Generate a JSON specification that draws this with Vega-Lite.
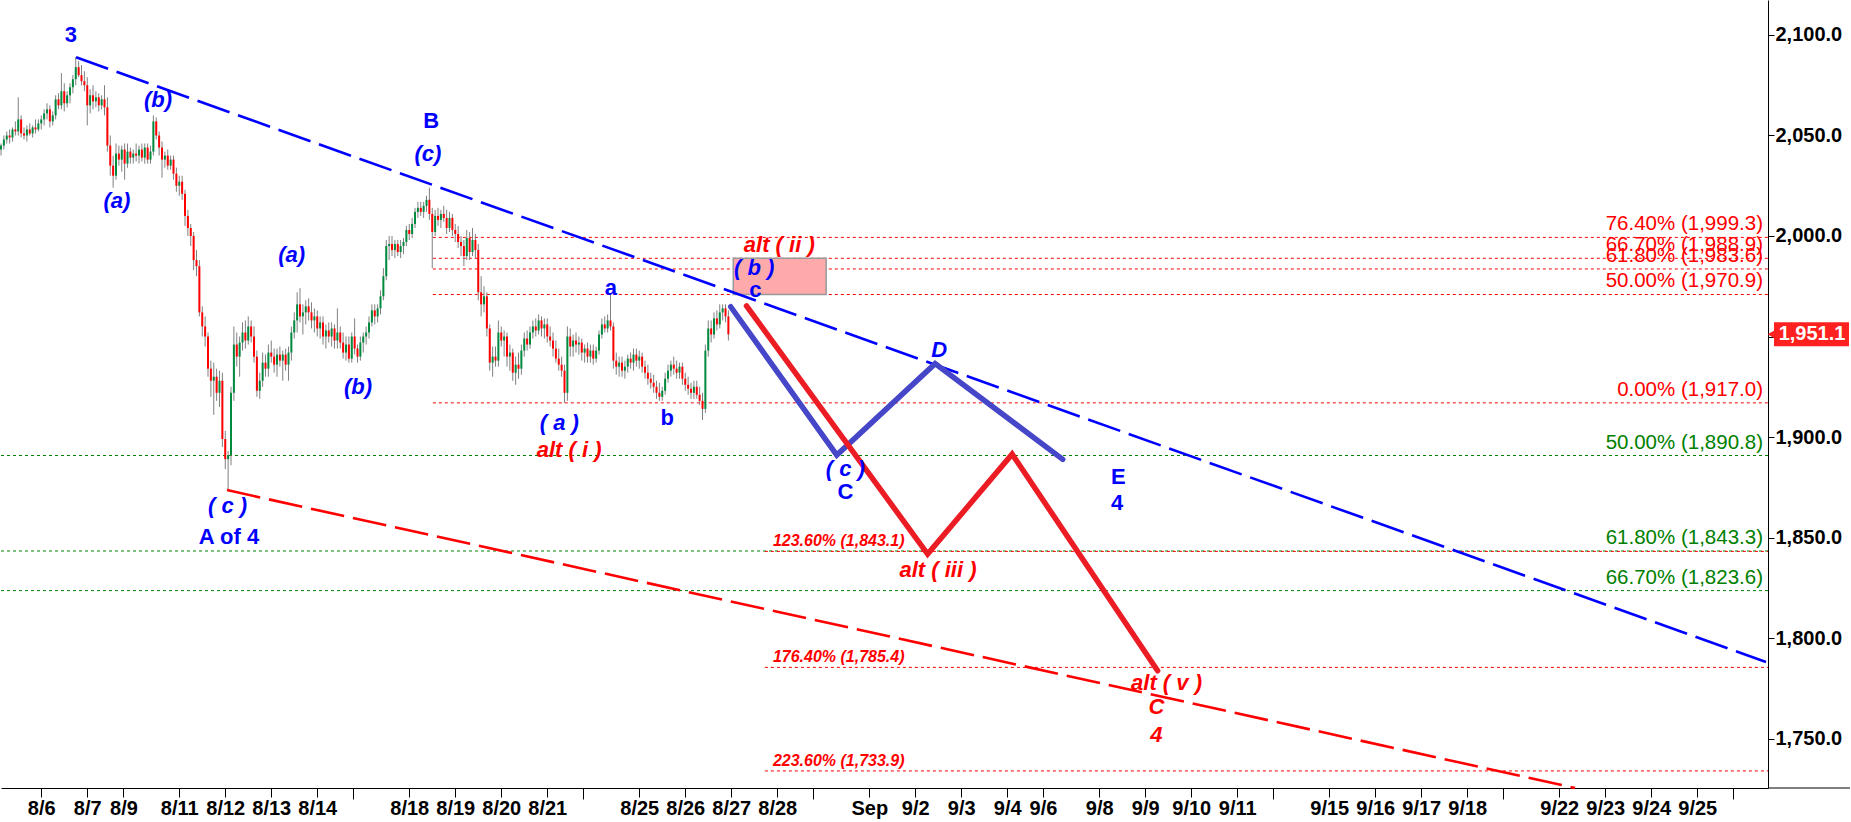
{
"$schema": "https://vega.github.io/schema/vega-lite/v6.json",
"width": 1767, "height": 788, "padding": 0, "autosize": {"type": "pad"},
"background": "white",
"config": {"view": {"stroke": null}, "font": "Liberation Sans"},
"datasets": {
"fib": [
{"g":"A","x0":150.2,"x1":614.6,"v":1999.3,"label":"76.40% (1,999.3)"},
{"g":"A","x0":150.2,"x1":614.6,"v":1988.9,"label":"66.70% (1,988.9)"},
{"g":"A","x0":150.2,"x1":614.6,"v":1983.6,"label":"61.80% (1,983.6)"},
{"g":"A","x0":150.2,"x1":614.6,"v":1970.9,"label":"50.00% (1,970.9)"},
{"g":"A","x0":150.2,"x1":614.6,"v":1917.0,"label":"0.00% (1,917.0)"},
{"g":"G","x0":0,"x1":614.6,"v":1890.8,"label":"50.00% (1,890.8)"},
{"g":"G","x0":0,"x1":614.6,"v":1843.3,"label":"61.80% (1,843.3)"},
{"g":"G","x0":0,"x1":614.6,"v":1823.6,"label":"66.70% (1,823.6)"},
{"g":"B","x0":265.7,"x1":614.6,"v":1843.1,"label":"123.60% (1,843.1)"},
{"g":"B","x0":265.7,"x1":614.6,"v":1785.4,"label":"176.40% (1,785.4)"},
{"g":"B","x0":265.7,"x1":614.6,"v":1733.9,"label":"223.60% (1,733.9)"}
],
"box": [{"x0":254.7,"x1":287.0,"v0":1988.9,"v1":1970.9}],
"tb": [{"i":26.1,"v":2088.9},{"i":613.9,"v":1788.1}],
"tr": [{"i":78.6,"v":1873.6},{"i":547.5,"v":1725.4}],
"wb": [{"i":253.8,"v":1964.8},{"i":290.7,"v":1891.0},{"i":324.9,"v":1936.5},{"i":369.3,"v":1888.9}],
"wr": [{"i":259.3,"v":1965.2},{"i":322.3,"v":1841.8},{"i":351.7,"v":1891.5},{"i":402.3,"v":1783.7}],
"labels": [
{"g":"bu","t":"3","i":24.3,"v":2100.0},
{"g":"bu","t":"B","i":149.6,"v":2057.4},
{"g":"bu","t":"a","i":212.1,"v":1974.0},
{"g":"bu","t":"b","i":231.7,"v":1909.3},
{"g":"bu","t":"A of 4","i":79.3,"v":1850.4},
{"g":"bu","t":"c","i":262.4,"v":1973.2},
{"g":"bu","t":"C","i":293.7,"v":1872.8},
{"g":"bu","t":"E","i":388.6,"v":1880.0},
{"g":"bu","t":"4","i":388.2,"v":1867.0},
{"g":"bi","t":"(b)","i":54.6,"v":2067.7},
{"g":"bi","t":"(a)","i":40.3,"v":2017.4},
{"g":"bi","t":"(c)","i":148.5,"v":2040.8},
{"g":"bi","t":"(a)","i":101.1,"v":1990.5},
{"g":"bi","t":"(b)","i":124.2,"v":1924.7},
{"g":"bi","t":"( a )","i":194.2,"v":1907.1},
{"g":"bi","t":"( c )","i":78.8,"v":1865.7},
{"g":"bi","t":"( b )","i":262.0,"v":1984.0},
{"g":"bi","t":"D","i":326.3,"v":1943.3},
{"g":"bi","t":"( c )","i":293.7,"v":1883.9},
{"g":"ri","t":"alt ( i )","i":197.6,"v":1893.5},
{"g":"ri","t":"alt ( ii )","i":270.7,"v":1995.6},
{"g":"ri","t":"alt ( iii )","i":325.9,"v":1833.8},
{"g":"ri","t":"alt ( v )","i":405.4,"v":1777.8},
{"g":"ri","t":"C","i":401.9,"v":1765.6},
{"g":"ri","t":"4","i":401.9,"v":1751.8}
],
"tag": [{"price":1951.1,"t":"1,951.1"}],
"ohlc": [
{"i":0,"o":2043,"h":2046,"l":2040,"c":2045},
{"i":1,"o":2045,"h":2050,"l":2043,"c":2048},
{"i":2,"o":2048,"h":2052,"l":2046,"c":2050},
{"i":3,"o":2050,"h":2053,"l":2046,"c":2049},
{"i":4,"o":2049,"h":2054,"l":2047,"c":2053},
{"i":5,"o":2053,"h":2057,"l":2050,"c":2052},
{"i":6,"o":2052,"h":2069,"l":2050,"c":2058},
{"i":7,"o":2058,"h":2060,"l":2049,"c":2051},
{"i":8,"o":2051,"h":2054,"l":2048,"c":2050},
{"i":9,"o":2050,"h":2055,"l":2047,"c":2053},
{"i":10,"o":2053,"h":2056,"l":2050,"c":2051},
{"i":11,"o":2051,"h":2055,"l":2049,"c":2054},
{"i":12,"o":2054,"h":2058,"l":2051,"c":2053},
{"i":13,"o":2053,"h":2058,"l":2052,"c":2056},
{"i":14,"o":2056,"h":2060,"l":2053,"c":2058},
{"i":15,"o":2058,"h":2063,"l":2055,"c":2061},
{"i":16,"o":2061,"h":2066,"l":2058,"c":2063},
{"i":17,"o":2063,"h":2065,"l":2054,"c":2057},
{"i":18,"o":2057,"h":2062,"l":2055,"c":2060},
{"i":19,"o":2060,"h":2070,"l":2058,"c":2068},
{"i":20,"o":2068,"h":2071,"l":2063,"c":2065},
{"i":21,"o":2065,"h":2081,"l":2063,"c":2072},
{"i":22,"o":2072,"h":2076,"l":2062,"c":2066},
{"i":23,"o":2066,"h":2072,"l":2064,"c":2070},
{"i":24,"o":2070,"h":2076,"l":2066,"c":2074},
{"i":25,"o":2074,"h":2080,"l":2071,"c":2078},
{"i":26,"o":2078,"h":2089,"l":2075,"c":2084},
{"i":27,"o":2084,"h":2087,"l":2079,"c":2080},
{"i":28,"o":2080,"h":2085,"l":2075,"c":2077},
{"i":29,"o":2077,"h":2082,"l":2072,"c":2075},
{"i":30,"o":2075,"h":2079,"l":2055,"c":2065},
{"i":31,"o":2065,"h":2073,"l":2061,"c":2070},
{"i":32,"o":2070,"h":2075,"l":2063,"c":2067},
{"i":33,"o":2067,"h":2072,"l":2064,"c":2069},
{"i":34,"o":2069,"h":2071,"l":2062,"c":2065},
{"i":35,"o":2065,"h":2070,"l":2063,"c":2068},
{"i":36,"o":2068,"h":2075,"l":2060,"c":2064},
{"i":37,"o":2064,"h":2069,"l":2042,"c":2045},
{"i":38,"o":2045,"h":2050,"l":2030,"c":2035},
{"i":39,"o":2035,"h":2040,"l":2024,"c":2030},
{"i":40,"o":2030,"h":2046,"l":2028,"c":2041},
{"i":41,"o":2041,"h":2045,"l":2035,"c":2038},
{"i":42,"o":2038,"h":2045,"l":2032,"c":2043},
{"i":43,"o":2043,"h":2046,"l":2028,"c":2036},
{"i":44,"o":2036,"h":2046,"l":2034,"c":2042},
{"i":45,"o":2042,"h":2044,"l":2036,"c":2039},
{"i":46,"o":2039,"h":2043,"l":2036,"c":2041},
{"i":47,"o":2041,"h":2046,"l":2037,"c":2040},
{"i":48,"o":2040,"h":2045,"l":2036,"c":2043},
{"i":49,"o":2043,"h":2046,"l":2037,"c":2039},
{"i":50,"o":2039,"h":2046,"l":2036,"c":2044},
{"i":51,"o":2044,"h":2046,"l":2036,"c":2038},
{"i":52,"o":2038,"h":2045,"l":2036,"c":2042},
{"i":53,"o":2042,"h":2060,"l":2040,"c":2057},
{"i":54,"o":2057,"h":2059,"l":2048,"c":2050},
{"i":55,"o":2050,"h":2052,"l":2040,"c":2044},
{"i":56,"o":2044,"h":2047,"l":2029,"c":2038},
{"i":57,"o":2038,"h":2042,"l":2034,"c":2040},
{"i":58,"o":2040,"h":2043,"l":2033,"c":2035},
{"i":59,"o":2035,"h":2040,"l":2033,"c":2038},
{"i":60,"o":2038,"h":2040,"l":2028,"c":2031},
{"i":61,"o":2031,"h":2034,"l":2022,"c":2025},
{"i":62,"o":2025,"h":2030,"l":2020,"c":2027},
{"i":63,"o":2027,"h":2030,"l":2018,"c":2021},
{"i":64,"o":2021,"h":2023,"l":2005,"c":2010},
{"i":65,"o":2010,"h":2013,"l":2000,"c":2004},
{"i":66,"o":2004,"h":2006,"l":1995,"c":2000},
{"i":67,"o":2000,"h":2002,"l":1983,"c":1988},
{"i":68,"o":1988,"h":1993,"l":1980,"c":1985},
{"i":69,"o":1985,"h":1988,"l":1960,"c":1962},
{"i":70,"o":1962,"h":1965,"l":1950,"c":1955},
{"i":71,"o":1955,"h":1960,"l":1945,"c":1950},
{"i":72,"o":1950,"h":1952,"l":1930,"c":1934},
{"i":73,"o":1934,"h":1938,"l":1920,"c":1928},
{"i":74,"o":1928,"h":1937,"l":1911,"c":1930},
{"i":75,"o":1930,"h":1934,"l":1918,"c":1922},
{"i":76,"o":1922,"h":1933,"l":1915,"c":1928},
{"i":77,"o":1928,"h":1932,"l":1895,"c":1899},
{"i":78,"o":1899,"h":1903,"l":1884,"c":1889},
{"i":79,"o":1889,"h":1893,"l":1873.6,"c":1891},
{"i":80,"o":1891,"h":1925,"l":1886,"c":1922},
{"i":81,"o":1922,"h":1955,"l":1918,"c":1946},
{"i":82,"o":1946,"h":1952,"l":1935,"c":1940},
{"i":83,"o":1940,"h":1950,"l":1930,"c":1947},
{"i":84,"o":1947,"h":1957,"l":1943,"c":1952},
{"i":85,"o":1952,"h":1958,"l":1944,"c":1948},
{"i":86,"o":1948,"h":1960,"l":1946,"c":1955},
{"i":87,"o":1955,"h":1958,"l":1947,"c":1950},
{"i":88,"o":1950,"h":1955,"l":1937,"c":1940},
{"i":89,"o":1940,"h":1943,"l":1920,"c":1923},
{"i":90,"o":1923,"h":1932,"l":1919,"c":1928},
{"i":91,"o":1928,"h":1942,"l":1925,"c":1937},
{"i":92,"o":1937,"h":1941,"l":1930,"c":1934},
{"i":93,"o":1934,"h":1946,"l":1930,"c":1942},
{"i":94,"o":1942,"h":1948,"l":1937,"c":1940},
{"i":95,"o":1940,"h":1944,"l":1932,"c":1936},
{"i":96,"o":1936,"h":1944,"l":1930,"c":1941},
{"i":97,"o":1941,"h":1945,"l":1935,"c":1938},
{"i":98,"o":1938,"h":1943,"l":1928,"c":1941},
{"i":99,"o":1941,"h":1944,"l":1933,"c":1936},
{"i":100,"o":1936,"h":1945,"l":1928,"c":1942},
{"i":101,"o":1942,"h":1955,"l":1938,"c":1952},
{"i":102,"o":1952,"h":1962,"l":1949,"c":1958},
{"i":103,"o":1958,"h":1972,"l":1952,"c":1966},
{"i":104,"o":1966,"h":1974,"l":1957,"c":1960},
{"i":105,"o":1960,"h":1966,"l":1951,"c":1962},
{"i":106,"o":1962,"h":1968,"l":1956,"c":1965},
{"i":107,"o":1965,"h":1969,"l":1958,"c":1962},
{"i":108,"o":1962,"h":1967,"l":1954,"c":1958},
{"i":109,"o":1958,"h":1964,"l":1952,"c":1960},
{"i":110,"o":1960,"h":1963,"l":1950,"c":1954},
{"i":111,"o":1954,"h":1960,"l":1949,"c":1957},
{"i":112,"o":1957,"h":1960,"l":1946,"c":1950},
{"i":113,"o":1950,"h":1956,"l":1944,"c":1953},
{"i":114,"o":1953,"h":1957,"l":1947,"c":1950},
{"i":115,"o":1950,"h":1957,"l":1945,"c":1954},
{"i":116,"o":1954,"h":1956,"l":1944,"c":1948},
{"i":117,"o":1948,"h":1964,"l":1944,"c":1952},
{"i":118,"o":1952,"h":1955,"l":1944,"c":1947},
{"i":119,"o":1947,"h":1952,"l":1939,"c":1942},
{"i":120,"o":1942,"h":1950,"l":1938,"c":1946},
{"i":121,"o":1946,"h":1950,"l":1937,"c":1939},
{"i":122,"o":1939,"h":1952,"l":1937,"c":1950},
{"i":123,"o":1950,"h":1959,"l":1941,"c":1944},
{"i":124,"o":1944,"h":1946,"l":1937,"c":1940},
{"i":125,"o":1940,"h":1950,"l":1938,"c":1947},
{"i":126,"o":1947,"h":1952,"l":1942,"c":1950},
{"i":127,"o":1950,"h":1955,"l":1946,"c":1952},
{"i":128,"o":1952,"h":1960,"l":1949,"c":1957},
{"i":129,"o":1957,"h":1966,"l":1955,"c":1963},
{"i":130,"o":1963,"h":1966,"l":1956,"c":1960},
{"i":131,"o":1960,"h":1966,"l":1957,"c":1964},
{"i":132,"o":1964,"h":1973,"l":1961,"c":1970},
{"i":133,"o":1970,"h":1984,"l":1968,"c":1980},
{"i":134,"o":1980,"h":1998,"l":1978,"c":1995},
{"i":135,"o":1995,"h":2000,"l":1988,"c":1996},
{"i":136,"o":1996,"h":2000,"l":1990,"c":1993},
{"i":137,"o":1993,"h":1998,"l":1989,"c":1996},
{"i":138,"o":1996,"h":1998,"l":1990,"c":1992},
{"i":139,"o":1992,"h":1998,"l":1989,"c":1995},
{"i":140,"o":1995,"h":1999,"l":1991,"c":1997},
{"i":141,"o":1997,"h":2005,"l":1995,"c":2003},
{"i":142,"o":2003,"h":2006,"l":1998,"c":2001},
{"i":143,"o":2001,"h":2009,"l":1999,"c":2006},
{"i":144,"o":2006,"h":2014,"l":2004,"c":2012},
{"i":145,"o":2012,"h":2017,"l":2009,"c":2014},
{"i":146,"o":2014,"h":2017,"l":2010,"c":2012},
{"i":147,"o":2012,"h":2017,"l":2009,"c":2015},
{"i":148,"o":2015,"h":2020,"l":2012,"c":2018},
{"i":149,"o":2018,"h":2024,"l":2008,"c":2011},
{"i":150,"o":2011,"h":2014,"l":1984,"c":2002},
{"i":151,"o":2002,"h":2013,"l":2000,"c":2010},
{"i":152,"o":2010,"h":2014,"l":2005,"c":2008},
{"i":153,"o":2008,"h":2013,"l":2004,"c":2011},
{"i":154,"o":2011,"h":2015,"l":2007,"c":2009},
{"i":155,"o":2009,"h":2013,"l":2001,"c":2004},
{"i":156,"o":2004,"h":2012,"l":2002,"c":2009},
{"i":157,"o":2009,"h":2011,"l":2000,"c":2003},
{"i":158,"o":2003,"h":2006,"l":1997,"c":2001},
{"i":159,"o":2001,"h":2005,"l":1994,"c":1997},
{"i":160,"o":1997,"h":2000,"l":1990,"c":1995},
{"i":161,"o":1995,"h":1998,"l":1985,"c":1990},
{"i":162,"o":1990,"h":2003,"l":1988,"c":1999},
{"i":163,"o":1999,"h":2002,"l":1988,"c":1992},
{"i":164,"o":1992,"h":2004,"l":1990,"c":1998},
{"i":165,"o":1998,"h":2001,"l":1989,"c":1993},
{"i":166,"o":1993,"h":1996,"l":1968,"c":1972},
{"i":167,"o":1972,"h":1980,"l":1960,"c":1966},
{"i":168,"o":1966,"h":1975,"l":1962,"c":1970},
{"i":169,"o":1970,"h":1972,"l":1950,"c":1954},
{"i":170,"o":1954,"h":1956,"l":1933,"c":1937},
{"i":171,"o":1937,"h":1945,"l":1930,"c":1940},
{"i":172,"o":1940,"h":1945,"l":1935,"c":1938},
{"i":173,"o":1938,"h":1958,"l":1935,"c":1952},
{"i":174,"o":1952,"h":1955,"l":1945,"c":1948},
{"i":175,"o":1948,"h":1953,"l":1940,"c":1950},
{"i":176,"o":1950,"h":1952,"l":1935,"c":1940},
{"i":177,"o":1940,"h":1946,"l":1933,"c":1942},
{"i":178,"o":1942,"h":1944,"l":1928,"c":1932},
{"i":179,"o":1932,"h":1940,"l":1926,"c":1936},
{"i":180,"o":1936,"h":1942,"l":1929,"c":1934},
{"i":181,"o":1934,"h":1946,"l":1931,"c":1943},
{"i":182,"o":1943,"h":1952,"l":1940,"c":1949},
{"i":183,"o":1949,"h":1953,"l":1943,"c":1946},
{"i":184,"o":1946,"h":1955,"l":1944,"c":1952},
{"i":185,"o":1952,"h":1958,"l":1949,"c":1955},
{"i":186,"o":1955,"h":1959,"l":1950,"c":1953},
{"i":187,"o":1953,"h":1961,"l":1951,"c":1958},
{"i":188,"o":1958,"h":1960,"l":1950,"c":1954},
{"i":189,"o":1954,"h":1959,"l":1949,"c":1956},
{"i":190,"o":1956,"h":1959,"l":1947,"c":1950},
{"i":191,"o":1950,"h":1955,"l":1945,"c":1948},
{"i":192,"o":1948,"h":1952,"l":1940,"c":1944},
{"i":193,"o":1944,"h":1948,"l":1937,"c":1939},
{"i":194,"o":1939,"h":1944,"l":1933,"c":1936},
{"i":195,"o":1936,"h":1940,"l":1930,"c":1933},
{"i":196,"o":1933,"h":1936,"l":1917,"c":1922},
{"i":197,"o":1922,"h":1955,"l":1918,"c":1950},
{"i":198,"o":1950,"h":1954,"l":1940,"c":1945},
{"i":199,"o":1945,"h":1951,"l":1940,"c":1948},
{"i":200,"o":1948,"h":1952,"l":1942,"c":1946},
{"i":201,"o":1946,"h":1950,"l":1941,"c":1947},
{"i":202,"o":1947,"h":1949,"l":1938,"c":1942},
{"i":203,"o":1942,"h":1946,"l":1937,"c":1944},
{"i":204,"o":1944,"h":1947,"l":1937,"c":1940},
{"i":205,"o":1940,"h":1946,"l":1937,"c":1943},
{"i":206,"o":1943,"h":1946,"l":1936,"c":1939},
{"i":207,"o":1939,"h":1945,"l":1937,"c":1943},
{"i":208,"o":1943,"h":1953,"l":1941,"c":1951},
{"i":209,"o":1951,"h":1959,"l":1949,"c":1956},
{"i":210,"o":1956,"h":1960,"l":1952,"c":1954},
{"i":211,"o":1954,"h":1961,"l":1952,"c":1958},
{"i":212,"o":1958,"h":1971,"l":1953,"c":1955},
{"i":213,"o":1955,"h":1957,"l":1934,"c":1938},
{"i":214,"o":1938,"h":1942,"l":1931,"c":1935},
{"i":215,"o":1935,"h":1940,"l":1930,"c":1937},
{"i":216,"o":1937,"h":1940,"l":1930,"c":1933},
{"i":217,"o":1933,"h":1938,"l":1929,"c":1935},
{"i":218,"o":1935,"h":1941,"l":1932,"c":1939},
{"i":219,"o":1939,"h":1942,"l":1934,"c":1937},
{"i":220,"o":1937,"h":1944,"l":1933,"c":1941},
{"i":221,"o":1941,"h":1944,"l":1935,"c":1938},
{"i":222,"o":1938,"h":1943,"l":1934,"c":1940},
{"i":223,"o":1940,"h":1942,"l":1932,"c":1935},
{"i":224,"o":1935,"h":1938,"l":1929,"c":1932},
{"i":225,"o":1932,"h":1936,"l":1926,"c":1929},
{"i":226,"o":1929,"h":1932,"l":1924,"c":1927},
{"i":227,"o":1927,"h":1931,"l":1922,"c":1925},
{"i":228,"o":1925,"h":1928,"l":1919,"c":1922},
{"i":229,"o":1922,"h":1927,"l":1918,"c":1920},
{"i":230,"o":1920,"h":1925,"l":1918,"c":1923},
{"i":231,"o":1923,"h":1932,"l":1921,"c":1929},
{"i":232,"o":1929,"h":1936,"l":1927,"c":1933},
{"i":233,"o":1933,"h":1938,"l":1930,"c":1936},
{"i":234,"o":1936,"h":1940,"l":1931,"c":1934},
{"i":235,"o":1934,"h":1938,"l":1929,"c":1932},
{"i":236,"o":1932,"h":1937,"l":1929,"c":1935},
{"i":237,"o":1935,"h":1937,"l":1926,"c":1929},
{"i":238,"o":1929,"h":1932,"l":1923,"c":1926},
{"i":239,"o":1926,"h":1930,"l":1921,"c":1924},
{"i":240,"o":1924,"h":1927,"l":1919,"c":1922},
{"i":241,"o":1922,"h":1928,"l":1919,"c":1925},
{"i":242,"o":1925,"h":1928,"l":1919,"c":1921},
{"i":243,"o":1921,"h":1925,"l":1916,"c":1918},
{"i":244,"o":1918,"h":1922,"l":1908.5,"c":1914},
{"i":245,"o":1914,"h":1946,"l":1912,"c":1943},
{"i":246,"o":1943,"h":1958,"l":1940,"c":1954},
{"i":247,"o":1954,"h":1958,"l":1947,"c":1951},
{"i":248,"o":1951,"h":1962,"l":1949,"c":1959},
{"i":249,"o":1959,"h":1963,"l":1953,"c":1956},
{"i":250,"o":1956,"h":1966,"l":1954,"c":1962},
{"i":251,"o":1962,"h":1966,"l":1958,"c":1964},
{"i":252,"o":1964,"h":1966,"l":1957,"c":1960},
{"i":253,"o":1960,"h":1963,"l":1948,"c":1951.1}
]
},
"layer": [
{"data": {"name": "fib"},
 "mark": {"type": "rule", "strokeDash": [3, 3], "strokeWidth": 1},
 "encoding": {
  "x": {"field": "x0", "type": "quantitative", "scale": {"domain": [0, 614.6], "nice": false, "zero": false},
   "axis": {"title": null, "orient": "bottom",
    "values": [14,30,42.6,62,78,94,110,122.5,142,158,174,190,202.5,222,238,254,270,282.6,302,318,334,350,362.4,382,398,414,430,442.6,462,478,494,510,522.5,542,558,574,590,602.6],
    "labelExpr": "['8/6','8/7','8/9','8/11','8/12','8/13','8/14','','8/18','8/19','8/20','8/21','','8/25','8/26','8/27','8/28','','Sep','9/2','9/3','9/4','9/6','9/8','9/9','9/10','9/11','','9/15','9/16','9/17','9/18','','9/22','9/23','9/24','9/25',''][indexof([14,30,42.6,62,78,94,110,122.5,142,158,174,190,202.5,222,238,254,270,282.6,302,318,334,350,362.4,382,398,414,430,442.6,462,478,494,510,522.5,542,558,574,590,602.6], datum.value)]",
    "labelFont": "Liberation Sans", "labelFontSize": 20, "labelFontWeight": "bold", "labelColor": "#000000",
    "labelPadding": 1, "labelOverlap": false, "labelFlush": false, "labelBound": false,
    "tickColor": "#000000", "tickWidth": 1,
    "tickSize": {"condition": {"test": "indexof([122.5,202.5,282.6,442.6,522.5,602.6], datum.value) >= 0", "value": 11}, "value": 9},
    "domainColor": "#000000", "domainWidth": 1, "grid": false}},
  "x2": {"field": "x1"},
  "y": {"field": "v", "type": "quantitative", "scale": {"domain": [1725.4, 2117.4], "nice": false, "zero": false},
   "axis": {"title": null, "orient": "right", "values": [1750,1800,1850,1900,1950,2000,2050,2100], "format": ",.1f",
    "labelFont": "Liberation Sans", "labelFontSize": 20, "labelFontWeight": "bold", "labelColor": "#000000",
    "labelPadding": 1, "labelOverlap": false, "labelBound": false,
    "tickColor": "#000000", "tickSize": 6, "domainColor": "#000000", "domainWidth": 1, "grid": false}},
  "color": {"field": "g", "type": "nominal", "scale": {"domain": ["A","G","B"], "range": ["#ff0000","#008000","#ff0000"]}, "legend": null}
 }},
{"data": {"name": "box"},
 "mark": {"type": "rect", "fill": "#ffaaaa", "stroke": "#999999", "strokeWidth": 1.5},
 "encoding": {
  "x": {"field": "x0", "type": "quantitative", "scale": {"domain": [0, 614.6], "nice": false, "zero": false}, "title": null},
  "x2": {"field": "x1"},
  "y": {"field": "v0", "type": "quantitative", "scale": {"domain": [1725.4, 2117.4], "nice": false, "zero": false}, "title": null},
  "y2": {"field": "v1"}
 }},
{"data": {"name": "ohlc"},
 "mark": {"type": "rule", "color": "#808080", "strokeWidth": 1},
 "encoding": {
  "x": {"field": "i", "type": "quantitative", "scale": {"domain": [0, 614.6], "nice": false, "zero": false}, "title": null},
  "y": {"field": "l", "type": "quantitative", "scale": {"domain": [1725.4, 2117.4], "nice": false, "zero": false}, "title": null},
  "y2": {"field": "h"}
 }},
{"data": {"name": "ohlc"},
 "mark": {"type": "rule", "strokeWidth": 2},
 "encoding": {
  "x": {"field": "i", "type": "quantitative", "scale": {"domain": [0, 614.6], "nice": false, "zero": false}, "title": null},
  "y": {"field": "o", "type": "quantitative", "scale": {"domain": [1725.4, 2117.4], "nice": false, "zero": false}, "title": null},
  "y2": {"field": "c"},
  "color": {"condition": {"test": "datum.c >= datum.o", "value": "#008a3e"}, "value": "#ff0000"}
 }},
{"data": {"name": "tb"},
 "mark": {"type": "line", "color": "#0000ff", "strokeWidth": 2.6, "strokeDash": [34, 9]},
 "encoding": {
  "x": {"field": "i", "type": "quantitative", "scale": {"domain": [0, 614.6], "nice": false, "zero": false}, "title": null},
  "y": {"field": "v", "type": "quantitative", "scale": {"domain": [1725.4, 2117.4], "nice": false, "zero": false}, "title": null}
 }},
{"data": {"name": "tr"},
 "mark": {"type": "line", "color": "#ff0000", "strokeWidth": 2.6, "strokeDash": [34, 9]},
 "encoding": {
  "x": {"field": "i", "type": "quantitative", "scale": {"domain": [0, 614.6], "nice": false, "zero": false}, "title": null},
  "y": {"field": "v", "type": "quantitative", "scale": {"domain": [1725.4, 2117.4], "nice": false, "zero": false}, "title": null}
 }},
{"data": {"name": "wb"},
 "mark": {"type": "line", "color": "#4646c8", "strokeWidth": 5.5, "strokeCap": "round", "strokeJoin": "miter"},
 "encoding": {
  "x": {"field": "i", "type": "quantitative", "scale": {"domain": [0, 614.6], "nice": false, "zero": false}, "title": null},
  "y": {"field": "v", "type": "quantitative", "scale": {"domain": [1725.4, 2117.4], "nice": false, "zero": false}, "title": null}
 }},
{"data": {"name": "wr"},
 "mark": {"type": "line", "color": "#ec1c24", "strokeWidth": 5.5, "strokeCap": "round", "strokeJoin": "miter"},
 "encoding": {
  "x": {"field": "i", "type": "quantitative", "scale": {"domain": [0, 614.6], "nice": false, "zero": false}, "title": null},
  "y": {"field": "v", "type": "quantitative", "scale": {"domain": [1725.4, 2117.4], "nice": false, "zero": false}, "title": null}
 }},
{"data": {"name": "fib"},
 "transform": [{"filter": "datum.g != 'B'"}],
 "mark": {"type": "text", "align": "right", "baseline": "alphabetic", "dx": -5, "dy": -7, "font": "Liberation Sans", "fontSize": 20.5},
 "encoding": {
  "x": {"field": "x1", "type": "quantitative", "scale": {"domain": [0, 614.6], "nice": false, "zero": false}, "title": null},
  "y": {"field": "v", "type": "quantitative", "scale": {"domain": [1725.4, 2117.4], "nice": false, "zero": false}, "title": null},
  "text": {"field": "label"},
  "color": {"field": "g", "type": "nominal", "scale": {"domain": ["A","G","B"], "range": ["#ff0000","#008000","#ff0000"]}, "legend": null}
 }},
{"data": {"name": "fib"},
 "transform": [{"filter": "datum.g == 'B'"}],
 "mark": {"type": "text", "align": "left", "baseline": "alphabetic", "dx": 8, "dy": -5, "font": "Liberation Sans", "fontSize": 16, "fontWeight": "bold", "fontStyle": "italic", "color": "#ff0000"},
 "encoding": {
  "x": {"field": "x0", "type": "quantitative", "scale": {"domain": [0, 614.6], "nice": false, "zero": false}, "title": null},
  "y": {"field": "v", "type": "quantitative", "scale": {"domain": [1725.4, 2117.4], "nice": false, "zero": false}, "title": null},
  "text": {"field": "label"}
 }},
{"data": {"name": "labels"},
 "transform": [{"filter": "datum.g == 'bu'"}],
 "mark": {"type": "text", "align": "center", "baseline": "middle", "font": "Liberation Sans", "fontSize": 22, "fontWeight": "bold", "color": "#0000ff"},
 "encoding": {
  "x": {"field": "i", "type": "quantitative", "scale": {"domain": [0, 614.6], "nice": false, "zero": false}, "title": null},
  "y": {"field": "v", "type": "quantitative", "scale": {"domain": [1725.4, 2117.4], "nice": false, "zero": false}, "title": null},
  "text": {"field": "t"}
 }},
{"data": {"name": "labels"},
 "transform": [{"filter": "datum.g == 'bi'"}],
 "mark": {"type": "text", "align": "center", "baseline": "middle", "font": "Liberation Sans", "fontSize": 22, "fontWeight": "bold", "fontStyle": "italic", "color": "#0000ff"},
 "encoding": {
  "x": {"field": "i", "type": "quantitative", "scale": {"domain": [0, 614.6], "nice": false, "zero": false}, "title": null},
  "y": {"field": "v", "type": "quantitative", "scale": {"domain": [1725.4, 2117.4], "nice": false, "zero": false}, "title": null},
  "text": {"field": "t"}
 }},
{"data": {"name": "labels"},
 "transform": [{"filter": "datum.g == 'ri'"}],
 "mark": {"type": "text", "align": "center", "baseline": "middle", "font": "Liberation Sans", "fontSize": 22, "fontWeight": "bold", "fontStyle": "italic", "color": "#ff0000"},
 "encoding": {
  "x": {"field": "i", "type": "quantitative", "scale": {"domain": [0, 614.6], "nice": false, "zero": false}, "title": null},
  "y": {"field": "v", "type": "quantitative", "scale": {"domain": [1725.4, 2117.4], "nice": false, "zero": false}, "title": null},
  "text": {"field": "t"}
 }},
{"data": {"name": "tag"},
 "mark": {"type": "rule", "color": "#000000", "strokeWidth": 1, "x2Offset": 82},
 "encoding": {
  "x": {"value": "width"},
  "x2": {"value": "width"},
  "y": {"value": "height"}
 }},
{"data": {"name": "tag"},
 "mark": {"type": "rect", "color": "#ff2020", "xOffset": 6, "x2Offset": 81, "yOffset": -12, "y2Offset": 12},
 "encoding": {
  "x": {"value": "width"},
  "x2": {"value": "width"},
  "y": {"field": "price", "type": "quantitative", "scale": {"domain": [1725.4, 2117.4], "nice": false, "zero": false}, "title": null},
  "y2": {"field": "price"}
 }},
{"data": {"name": "tag"},
 "mark": {"type": "point", "shape": "triangle-left", "filled": true, "opacity": 1, "color": "#ff2020", "size": 150, "xOffset": 5},
 "encoding": {
  "x": {"value": "width"},
  "y": {"field": "price", "type": "quantitative", "scale": {"domain": [1725.4, 2117.4], "nice": false, "zero": false}, "title": null}
 }},
{"data": {"name": "tag"},
 "mark": {"type": "text", "align": "center", "baseline": "middle", "dx": 44, "font": "Liberation Sans", "fontSize": 20, "fontWeight": "bold", "color": "#ffffff"},
 "encoding": {
  "x": {"value": "width"},
  "y": {"field": "price", "type": "quantitative", "scale": {"domain": [1725.4, 2117.4], "nice": false, "zero": false}, "title": null},
  "text": {"field": "t"}
 }}
]
}
